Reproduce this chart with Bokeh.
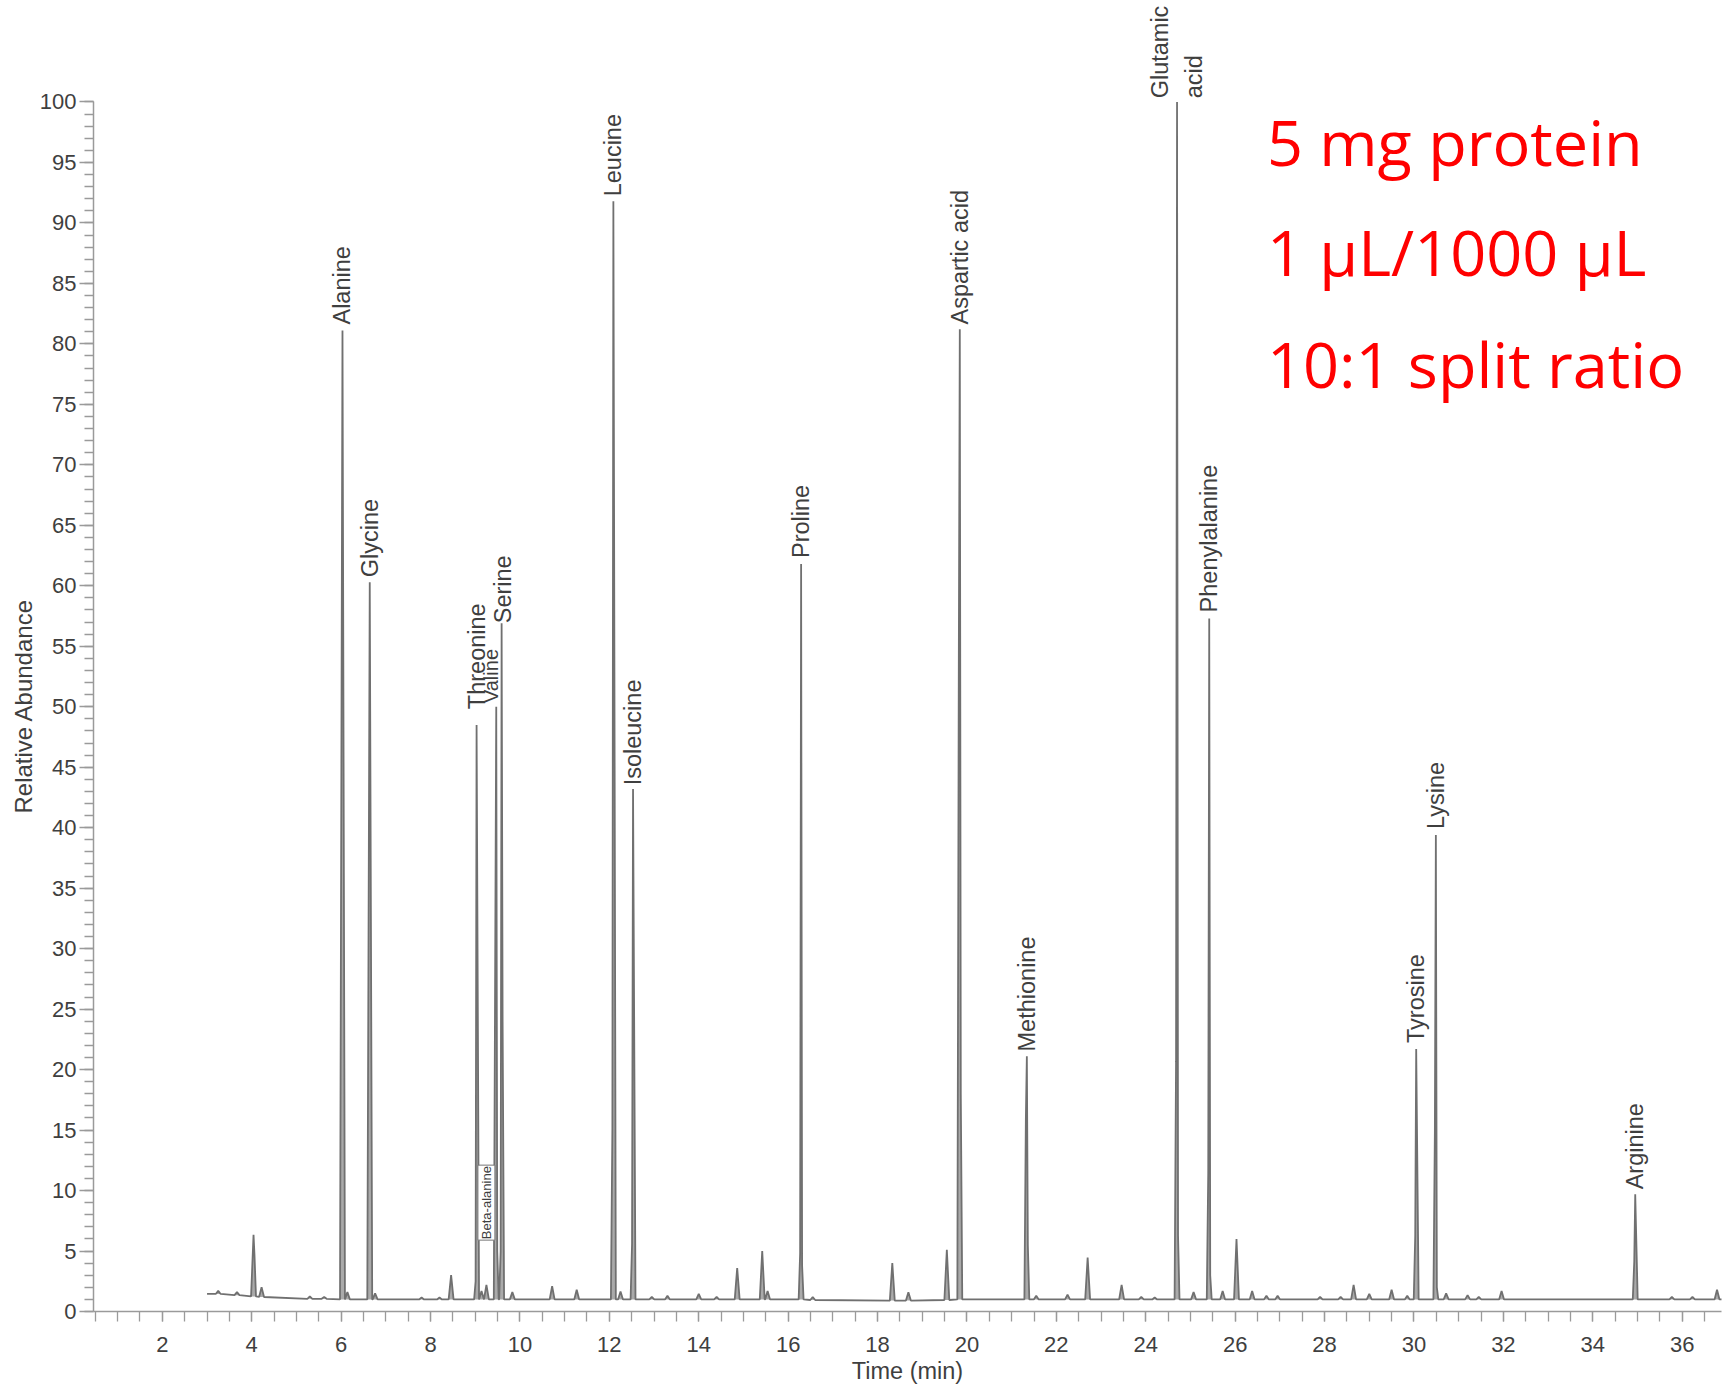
import math
from bokeh.plotting import figure
from bokeh.models import Range1d, SingleIntervalTicker, Label, Title
from bokeh.embed import file_html
from bokeh.resources import INLINE

# ---------------- data ----------------
trace_start = (3.0, 1.45)
trace_end = (36.9, 1.0)

peak_rt = [3.25, 3.67, 4.04, 4.22, 5.30, 5.62,
           6.03, 6.14, 6.64, 6.76, 7.80, 8.20, 8.46,
           9.03, 9.14, 9.25, 9.47, 9.59, 9.83,
           10.72, 11.27, 12.09, 12.25, 12.53, 12.95, 13.30,
           14.00, 14.40, 14.86, 15.42, 15.54, 16.29, 16.55,
           18.33, 18.69, 19.55, 19.84, 21.34, 21.55,
           22.25, 22.70, 23.46, 23.90, 24.20, 24.70, 25.07,
           25.42, 25.72, 26.03, 26.38, 26.70, 26.95, 27.90,
           28.36, 28.65, 29.00, 29.50, 29.85, 30.05, 30.49,
           30.72, 31.20, 31.45, 31.96, 34.95, 35.77, 36.23, 36.78]

peak_height = [1.7, 1.6, 6.35, 2.0, 1.25, 1.2,
               81.1, 1.6, 60.3, 1.5, 1.15, 1.15, 3.0,
               48.5, 1.7, 2.2, 50.0, 56.9, 1.6,
               2.1, 1.8, 91.8, 1.65, 43.2, 1.2, 1.3,
               1.45, 1.2, 3.6, 5.0, 1.7, 61.8, 1.2,
               4.0, 1.6, 5.1, 81.2, 21.1, 1.3,
               1.4, 4.45, 2.2, 1.2, 1.15, 100.0, 1.6,
               57.3, 1.7, 6.0, 1.7, 1.3, 1.3, 1.2,
               1.2, 2.2, 1.45, 1.8, 1.3, 21.7, 39.4,
               1.5, 1.35, 1.2, 1.7, 9.7, 1.2, 1.2, 1.8]

peak_base = [1.45, 1.35, 1.25, 1.2, 1.05, 1.05,
             1.0, 1.0, 1.0, 1.0, 1.0, 1.0, 1.0,
             1.0, 1.0, 1.0, 1.0, 1.0, 1.0,
             1.0, 1.0, 1.0, 1.0, 1.0, 1.0, 1.0,
             1.0, 1.0, 1.0, 1.0, 1.0, 1.0, 0.95,
             0.9, 0.9, 0.95, 1.0, 1.0, 1.0,
             1.0, 1.0, 1.0, 1.0, 1.0, 1.0, 1.0,
             1.0, 1.0, 1.0, 1.0, 1.0, 1.0, 1.0,
             1.0, 1.0, 1.0, 1.0, 1.0, 1.0, 1.0,
             1.0, 1.0, 1.0, 1.0, 1.0, 1.0, 1.0, 1.0]

# shoulder levels on the rising / falling side of a peak (0 = none)
peak_left_shoulder = [0, 0, 0, 0, 0, 0,
                      0, 0, 0, 0, 0, 0, 0,
                      2.5, 0, 0, 0, 5.0, 0,
                      0, 0, 15.1, 0, 5.6, 0, 0,
                      0, 0, 0, 0, 0, 4.8, 0,
                      0, 0, 0, 54.0, 16.0, 0,
                      0, 0, 0, 0, 0, 20.7, 0,
                      11.5, 0, 0, 0, 0, 0, 0,
                      0, 0, 0, 0, 0, 6.2, 15.0,
                      0, 0, 0, 0, 4.1, 0, 0, 0]
peak_right_shoulder = [0, 0, 4.6, 0, 0, 0,
                       0, 0, 0, 0, 0, 0, 0,
                       0, 0, 0, 5.0, 24.0, 0,
                       0, 0, 0, 0, 0, 0, 0,
                       0, 0, 0, 0, 0, 3.8, 0,
                       0, 0, 0, 18.0, 5.5, 0,
                       0, 0, 0, 0, 0, 6.3, 0,
                       3.0, 0, 0, 0, 0, 0, 0,
                       0, 0, 0, 0, 0, 0, 2.0,
                       0, 0, 0, 0, 0, 0, 0, 0]

label_names = ["Alanine", "Glycine", "Threonine", "Valine", "Serine",
               "Leucine", "Isoleucine", "Proline", "Aspartic acid",
               "Methionine", "Glutamic\nacid", "Phenylalanine",
               "Tyrosine", "Lysine", "Arginine"]
label_x = [6.03, 6.64, 9.03, 9.36, 9.61, 12.09, 12.53, 16.29, 19.84,
           21.34, 24.70, 25.42, 30.05, 30.49, 34.95]
label_y = [81.6, 60.7, 49.8, 50.3, 56.9, 92.2, 43.5, 62.3, 81.6,
           21.5, 100.3, 57.8, 22.2, 39.9, 10.1]

small_label = "Beta-alanine"
small_label_x = 9.25
small_label_y = 5.9

note_lines = ["5 mg protein", "1 \u03bcL/1000 \u03bcL", "10:1 split ratio"]

x_title = "Time (min)"
y_title = "Relative Abundance"
x_ticks_interval = 2
y_ticks_interval = 5

# ---------------- build trace polyline from the peak table ----------------
HALF_W = 0.055   # drawing width of a peak foot (style)
SHOULDER_W = 0.022
tx, ty, tb = [trace_start[0]], [trace_start[1]], [trace_start[1]]
for rt, h, b, ls, rs in zip(peak_rt, peak_height, peak_base,
                            peak_left_shoulder, peak_right_shoulder):
    tx.append(rt - HALF_W); ty.append(b); tb.append(b)
    if ls:
        tx.append(rt - SHOULDER_W); ty.append(ls); tb.append(b)
    tx.append(rt); ty.append(h); tb.append(b)
    if rs:
        tx.append(rt + SHOULDER_W); ty.append(rs); tb.append(b)
    tx.append(rt + HALF_W); ty.append(b); tb.append(b)
tx.append(trace_end[0]); ty.append(trace_end[1]); tb.append(trace_end[1])

# ---------------- figure ----------------
X0, X1 = 0.46, 36.88
Y0, Y1 = 0.0, 108.39
p = figure(width=1723, height=1386, output_backend="svg", toolbar_location=None,
           x_range=Range1d(X0, X1), y_range=Range1d(Y0, Y1),
           min_border_left=93, min_border_right=2, min_border_top=0,
           min_border_bottom=75)
p.outline_line_color = None
p.xgrid.visible = False
p.ygrid.visible = False
p.background_fill_color = "white"
p.border_fill_color = "white"

p.varea(x=tx, y1=tb, y2=ty, fill_color="#aaaaaa", fill_alpha=1.0)
p.line(tx, ty, line_color="#707070", line_width=1.8)

axis_col = "#9a9a9a"
text_col = "#3f3f3f"
font = "Liberation Sans"

xa = p.xaxis[0]
xa.ticker = SingleIntervalTicker(interval=x_ticks_interval, num_minor_ticks=4)
xa.major_tick_out = 10
xa.minor_tick_out = 10
xa.major_tick_in = 0
xa.minor_tick_in = 0
xa.major_label_standoff = 15
xa.axis_label = x_title
xa.axis_label_standoff = 3
xa.axis_label_text_font = font
xa.axis_label_text_font_size = "23.5px"
xa.axis_label_text_font_style = "normal"
xa.axis_label_text_color = text_col

ya = p.yaxis[0]
ya.ticker = SingleIntervalTicker(interval=y_ticks_interval, num_minor_ticks=5)
ya.bounds = (0, 100)
ya.major_tick_out = 14
ya.minor_tick_out = 9
ya.major_tick_in = 0
ya.minor_tick_in = 0
ya.major_label_standoff = 3

for ax in (xa, ya):
    ax.axis_line_color = axis_col
    ax.axis_line_width = 1.5
    ax.major_tick_line_color = axis_col
    ax.minor_tick_line_color = axis_col
    ax.major_tick_line_width = 1.3
    ax.minor_tick_line_width = 1.3
    ax.major_label_text_font = font
    ax.major_label_text_font_size = "22px"
    ax.major_label_text_color = text_col

# y axis title, placed along the 0-100 part of the axis
p.add_layout(Title(text=y_title, align="left", offset=498, standoff=0,
                   text_font=font, text_font_size="24px",
                   text_font_style="normal", text_color=text_col), "left")

# peak labels (rotated, reading upward)
for name, lx, ly in zip(label_names, label_x, label_y):
    size = "20px" if name == "Valine" else "23.5px"
    p.add_layout(Label(x=lx, y=ly, text=name, angle=math.pi / 2,
                       text_align="left", text_baseline="middle",
                       text_font=font, text_font_size=size,
                       text_color=text_col, text_line_height=1.3))

p.add_layout(Label(x=small_label_x, y=small_label_y, text=small_label,
                   angle=math.pi / 2, text_align="left", text_baseline="middle",
                   text_font=font, text_font_size="13px", text_color=text_col,
                   border_line_color="#777777", border_line_width=1,
                   background_fill_color="white", padding=1))

# red annotation text
note_y = [96.7, 87.6, 78.4]
for line_txt, ny in zip(note_lines, note_y):
    p.add_layout(Label(x=26.71, y=ny, text=line_txt, text_align="left",
                       text_baseline="alphabetic", text_font="Open Sans",
                       text_font_size="63px", text_color="#ff0000"))

open("out.html", "w").write(file_html(p, INLINE))
